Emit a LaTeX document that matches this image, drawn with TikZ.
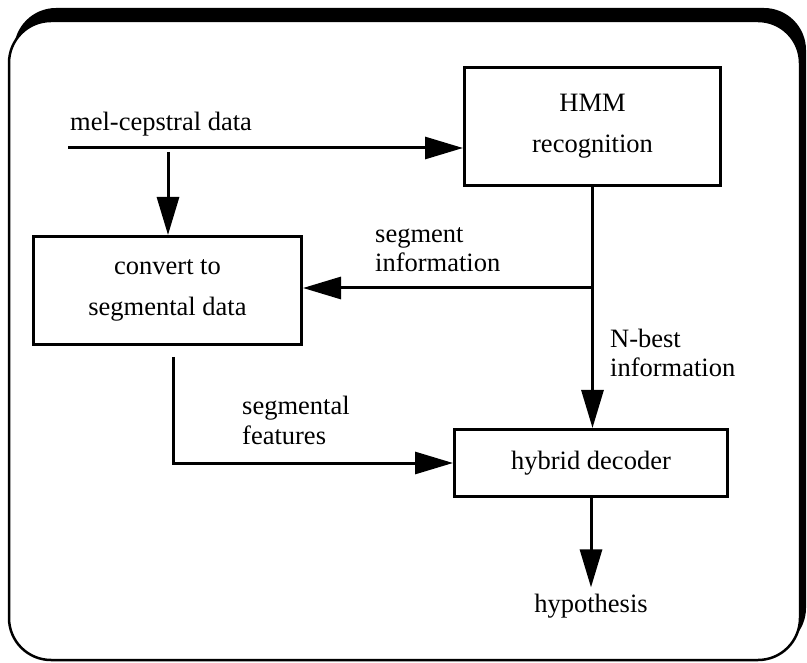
\documentclass[tikz,border=0pt]{standalone}
\usepackage{fontspec}
\setmainfont{Liberation Serif}
\usetikzlibrary{arrows.meta}
\begin{document}
\begin{tikzpicture}[x=1pt,y=-1pt,
  box/.style={draw,line width=3pt,align=center,font=\fontsize{26.5}{41}\selectfont,inner sep=0pt},
  lbl/.style={align=left,font=\fontsize{26.5}{29.5}\selectfont,inner sep=0pt,anchor=base west},
  flow/.style={line width=3pt,-{Triangle[length=38pt,width=22pt]}},
  wire/.style={line width=3pt}]
\useasboundingbox (0,0) rectangle (807,663);
\fill[rounded corners=42pt] (14,8) rectangle (806,650);
\draw[fill=white,line width=2.5pt,rounded corners=42pt] (9,21) rectangle (800,660);

\node[box,minimum width=256pt,minimum height=118pt] (hmm) at (592.5,126.5) {HMM\\recognition};
\node[box,minimum width=268pt,minimum height=108pt] (conv) at (167.5,290.5) {convert to\\segmental data};
\node[box,minimum width=273pt,minimum height=67pt] (hyb) at (591,463) {hybrid decoder};

\node[lbl] (mel) at (70,131) {mel-cepstral data};
\coordinate (melin) at (68,148);
\draw[flow] (melin) -- (melin -| hmm.west);
\coordinate (tap) at (168,152);
\draw[flow] (tap) -- (tap |- conv.north);

\coordinate (junc) at (592.5,288);
\draw[flow] (hmm.south) -- (hmm.south |- hyb.north);
\draw[flow] (junc) -- (junc -| conv.east);
\node[lbl] (seginfo) at (375,272) {segment\\information};
\node[lbl] (nbest) at (610,377) {N-best\\information};

\coordinate (cout) at (173,357);
\draw[flow] (cout) |- (hyb.west);
\node[lbl] (segfeat) at (242,444) {segmental\\features};

\node[font=\fontsize{26.5}{30}\selectfont,inner sep=0pt,anchor=base] (hypo) at (591,612) {hypothesis};
\draw[flow] (hyb.south) -- ([yshift=6pt]hypo.north);
\end{tikzpicture}
\end{document}
